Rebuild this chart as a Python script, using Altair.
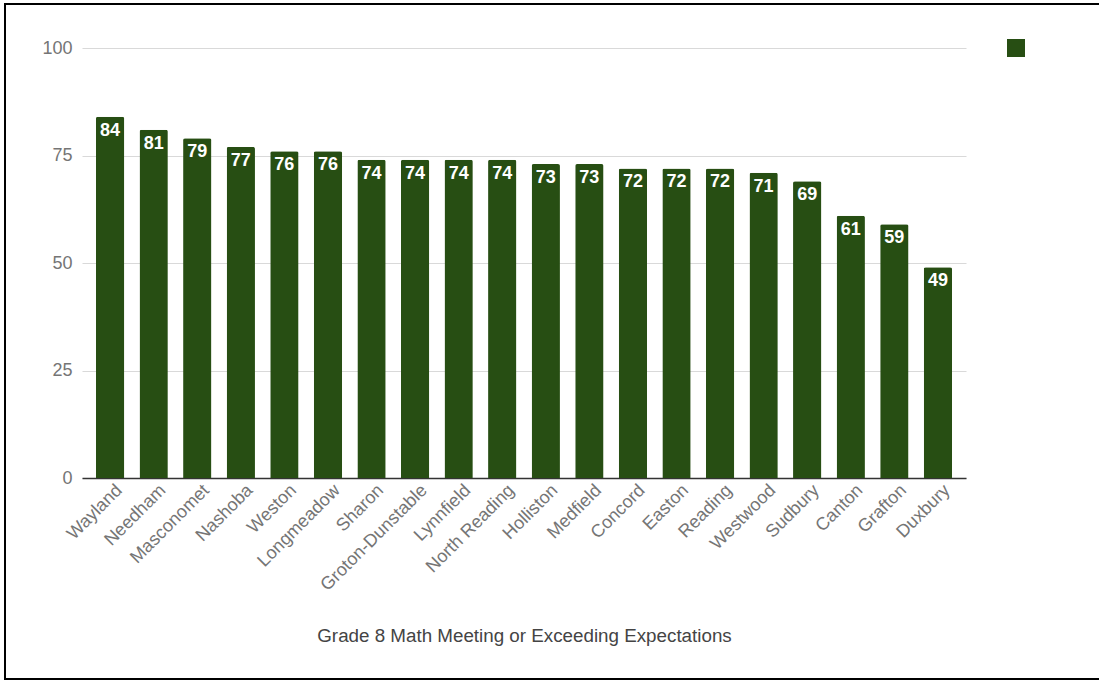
import altair as alt
import pandas as pd

districts = ["Wayland", "Needham", "Masconomet", "Nashoba", "Weston", "Longmeadow",
             "Sharon", "Groton-Dunstable", "Lynnfield", "North Reading", "Holliston",
             "Medfield", "Concord", "Easton", "Reading", "Westwood", "Sudbury",
             "Canton", "Grafton", "Duxbury"]
values = [84, 81, 79, 77, 76, 76, 74, 74, 74, 74, 73, 73, 72, 72, 72, 71, 69, 61, 59, 49]
y_ticks = [0, 25, 50, 75, 100]
title_text = "Grade 8 Math Meeting or Exceeding Expectations"

df = pd.DataFrame({"district": districts, "value": values, "series": "Grade 8 Math"})

GREEN = "#274e13"
FONT = "Liberation Sans"

x_enc = alt.X("district:N", sort=districts,
              scale=alt.Scale(paddingInner=0.35, paddingOuter=0.32),
              axis=alt.Axis(title=title_text, labelAngle=-45, labelAlign="right",
                            labelBaseline="top", labelPadding=3, labelOffset=3,
                            labelFontSize=18, labelColor="#757575", labelFont=FONT,
                            ticks=False, domainColor="#333333", domainWidth=1.5,
                            titleFont=FONT, titleFontSize=18.8, titleFontWeight="normal",
                            titleColor="#444444", titleY=157, titleBaseline="middle"))

y_enc = alt.Y("value:Q", scale=alt.Scale(domain=[0, 100]),
              axis=alt.Axis(title=None, values=y_ticks, domain=False, ticks=False,
                            labelPadding=10, labelFontSize=18, labelColor="#757575",
                            labelFont=FONT, gridColor="#d9d9d9", gridWidth=1))

bars = alt.Chart(df).mark_bar(cornerRadiusTopLeft=2, cornerRadiusTopRight=2).encode(
    x=x_enc, y=y_enc,
    color=alt.Color("series:N", scale=alt.Scale(range=[GREEN]),
                    legend=alt.Legend(title=None, orient="none", legendX=925, legendY=-9,
                                      symbolType="square", symbolSize=324,
                                      symbolStrokeWidth=0, labelExpr="''"))
)

labels = alt.Chart(df).mark_text(baseline="top", dy=5, color="white", fontWeight="bold",
                                 fontSize=18, font=FONT).encode(
    x=alt.X("district:N", sort=districts), y="value:Q", text="value:Q")

frame = alt.Chart(alt.Data(values=[{"f": 1}])).mark_rect(
    fill="transparent", stroke="black", strokeWidth=2).encode(
    x=alt.value(-77), x2=alt.value(1030), y=alt.value(-44), y2=alt.value(631))

chart = alt.layer(bars, labels, frame).properties(
    width=884, height=430,
    autosize=alt.AutoSizeParams(type="none"),
    padding={"left": 82, "top": 48, "right": 133, "bottom": 203},
    background="white"
).configure_view(stroke=None)

chart.save("out.html", embed_options={"renderer": "svg", "actions": False})
